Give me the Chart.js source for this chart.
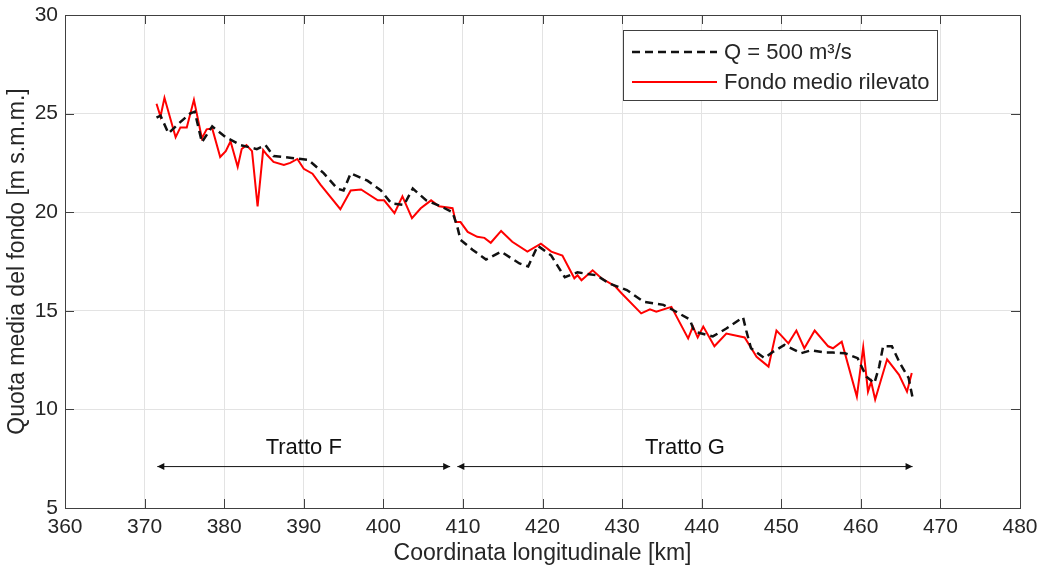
<!DOCTYPE html>
<html>
<head>
<meta charset="utf-8">
<script src="https://cdn.jsdelivr.net/npm/chart.js@4.4.1/dist/chart.umd.min.js"></script>
<style>
  html, body { margin: 0; padding: 0; background: #fff; }
  #wrap { width: 1037px; height: 571px; }
</style>
</head>
<body>
<div id="wrap"><canvas id="profileChart" width="1037" height="571"></canvas></div>
<script>
// km along the river and bed elevation [m s.m.m.]
const kmQ500 = [371.5, 372.0, 373.0, 374.3, 375.7, 376.3, 377.2, 378.5, 380.2, 382.1, 384.1, 385.2, 386.2, 388.5, 390.6, 392.5, 394.2, 395.0, 395.9, 398.0, 399.7, 401.0, 402.6, 403.7, 405.4, 407.2, 408.7, 409.3, 409.7, 411.2, 412.9, 414.8, 417.1, 418.2, 419.4, 421.1, 422.4, 422.8, 424.4, 426.8, 428.3, 430.6, 432.7, 435.2, 436.4, 438.5, 439.1, 441.4, 443.1, 445.2, 445.6, 446.2, 447.9, 449.0, 450.4, 452.5, 453.8, 455.5, 456.5, 458.0, 459.6, 460.3, 460.7, 461.7, 462.3, 462.8, 463.9, 464.9, 466.0, 466.5];
const zQ500 = [24.8, 24.9, 24.0, 24.5, 25.0, 25.1, 23.55, 24.35, 23.8, 23.4, 23.2, 23.4, 22.85, 22.75, 22.65, 21.98, 21.2, 21.1, 21.97, 21.6, 21.1, 20.45, 20.37, 21.2, 20.6, 20.3, 20.0, 19.25, 18.6, 18.1, 17.6, 18.0, 17.4, 17.25, 18.3, 17.8, 16.95, 16.7, 16.95, 16.8, 16.4, 16.05, 15.46, 15.3, 15.04, 14.56, 13.94, 13.7, 14.1, 14.67, 14.0, 13.1, 12.6, 12.93, 13.27, 12.85, 13.0, 12.88, 12.88, 12.85, 12.6, 12.0, 11.66, 11.33, 12.16, 13.2, 13.2, 12.35, 11.6, 10.6];

const kmRilievo = [371.5, 372.0, 372.5, 373.9, 374.5, 375.3, 376.2, 377.2, 377.8, 378.5, 379.5, 380.2, 380.8, 381.7, 382.2, 382.8, 383.5, 384.2, 384.9, 385.4, 386.2, 387.5, 388.3, 389.2, 390.0, 391.1, 392.1, 394.6, 395.9, 397.2, 399.3, 400.1, 401.4, 402.4, 403.6, 404.7, 406.0, 407.0, 408.7, 409.1, 409.7, 410.6, 411.8, 412.7, 413.5, 414.8, 416.2, 418.1, 419.8, 421.1, 422.5, 424.0, 424.4, 424.9, 426.3, 427.4, 429.1, 429.9, 432.4, 433.5, 434.3, 436.2, 438.3, 438.9, 439.5, 440.2, 441.6, 443.1, 445.4, 446.9, 448.4, 449.4, 450.1, 450.9, 451.9, 452.9, 454.2, 455.9, 456.5, 457.6, 459.5, 460.3, 460.9, 461.3, 461.8, 463.3, 464.8, 465.8, 466.4];
const zRilievo = [25.5, 24.85, 25.8, 23.8, 24.3, 24.3, 25.7, 23.75, 24.2, 24.25, 22.8, 23.1, 23.6, 22.3, 23.2, 23.4, 23.1, 20.3, 23.15, 22.9, 22.55, 22.4, 22.5, 22.7, 22.2, 21.95, 21.4, 20.15, 21.1, 21.15, 20.6, 20.6, 19.95, 20.8, 19.7, 20.2, 20.6, 20.3, 20.2, 19.5, 19.5, 19.0, 18.75, 18.7, 18.45, 19.05, 18.5, 18.0, 18.4, 18.0, 17.8, 16.65, 16.8, 16.55, 17.05, 16.65, 16.25, 15.9, 14.87, 15.07, 14.95, 15.2, 13.6, 14.2, 13.65, 14.2, 13.2, 13.85, 13.65, 12.67, 12.17, 14.0, 13.7, 13.35, 14.0, 13.1, 14.0, 13.2, 13.1, 13.43, 10.65, 13.15, 10.9, 11.4, 10.5, 12.54, 11.75, 10.9, 11.85];

// reach annotations: [label, start km, end km]
const tratti = [['Tratto F', 371.6, 408.4], ['Tratto G', 409.3, 466.5]];
const trattoArrowZ = 7.1;
const trattoLabelZ = 8.05;

const FONT = '"Liberation Sans", Arial, sans-serif';
const TEXT = '#262626';

function toPoints(xs, ys) {
    return xs.map((x, i) => ({ x: x, y: ys[i] }));
}

// MATLAB-like box with inward ticks
const boxPlugin = {
    id: 'boxPlugin',
    afterDatasetsDraw(chart) {
        const { ctx, chartArea: a, scales } = chart;
        ctx.save();
        ctx.strokeStyle = '#404040';
        ctx.lineWidth = 1;
        ctx.beginPath();
        scales.x.ticks.forEach(t => {
            const px = Math.round(scales.x.getPixelForValue(t.value)) + 0.5;
            ctx.moveTo(px, a.bottom); ctx.lineTo(px, a.bottom - 9);
            ctx.moveTo(px, a.top); ctx.lineTo(px, a.top + 9);
        });
        scales.y.ticks.forEach(t => {
            const py = Math.round(scales.y.getPixelForValue(t.value)) + 0.5;
            ctx.moveTo(a.left, py); ctx.lineTo(a.left + 9, py);
            ctx.moveTo(a.right, py); ctx.lineTo(a.right - 9, py);
        });
        ctx.stroke();
        ctx.strokeRect(Math.round(a.left) + 0.5, Math.round(a.top) + 0.5,
            Math.round(a.right - a.left), Math.round(a.bottom - a.top));
        ctx.restore();
    }
};

const trattiPlugin = {
    id: 'trattiPlugin',
    afterDatasetsDraw(chart) {
        const { ctx, scales } = chart;
        const yA = scales.y.getPixelForValue(trattoArrowZ);
        const yT = scales.y.getPixelForValue(trattoLabelZ);
        ctx.save();
        ctx.fillStyle = '#111';
        ctx.strokeStyle = '#111';
        ctx.lineWidth = 1;
        ctx.font = '22px ' + FONT;
        ctx.textAlign = 'center';
        ctx.textBaseline = 'middle';
        tratti.forEach(([label, k0, k1]) => {
            const x0 = scales.x.getPixelForValue(k0);
            const x1 = scales.x.getPixelForValue(k1);
            ctx.beginPath();
            ctx.moveTo(x0, yA); ctx.lineTo(x1, yA);
            ctx.stroke();
            ctx.beginPath();
            ctx.moveTo(x0, yA); ctx.lineTo(x0 + 7, yA - 3.5); ctx.lineTo(x0 + 7, yA + 3.5); ctx.closePath();
            ctx.moveTo(x1, yA); ctx.lineTo(x1 - 7, yA - 3.5); ctx.lineTo(x1 - 7, yA + 3.5); ctx.closePath();
            ctx.fill();
            ctx.fillText(label, (x0 + x1) / 2, yT);
        });
        ctx.restore();
    }
};

const legendPlugin = {
    id: 'boxLegend',
    afterDraw(chart) {
        const { ctx, chartArea: a } = chart;
        const bx = a.right - 397, by = a.top + 15, bw = 314, bh = 70;
        ctx.save();
        ctx.fillStyle = '#fff';
        ctx.fillRect(bx, by, bw, bh);
        ctx.strokeStyle = '#404040';
        ctx.lineWidth = 1;
        ctx.strokeRect(Math.round(bx) + 0.5, Math.round(by) + 0.5, bw, bh);
        ctx.font = '22px ' + FONT;
        ctx.textBaseline = 'middle';
        ctx.fillStyle = TEXT;
        chart.data.datasets.forEach((ds, i) => {
            const y = by + 22 + i * 30;
            ctx.beginPath();
            ctx.strokeStyle = ds.borderColor;
            ctx.lineWidth = ds.borderWidth;
            ctx.setLineDash(ds.borderDash || []);
            ctx.moveTo(bx + 9, y); ctx.lineTo(bx + 94, y);
            ctx.stroke();
            ctx.setLineDash([]);
            ctx.fillText(ds.label, bx + 101, y + 1);
        });
        ctx.restore();
    }
};

const ctx = document.getElementById('profileChart').getContext('2d');
new Chart(ctx, {
    type: 'line',
    data: {
        datasets: [{
            label: 'Q = 500 m³/s',
            data: toPoints(kmQ500, zQ500),
            borderColor: '#111111',
            borderWidth: 2.5,
            borderDash: [8, 5],
            pointRadius: 0,
            tension: 0,
            fill: false,
        }, {
            label: 'Fondo medio rilevato',
            data: toPoints(kmRilievo, zRilievo),
            borderColor: '#ff0000',
            borderWidth: 2,
            pointRadius: 0,
            tension: 0,
            fill: false,
        }]
    },
    options: {
        responsive: false,
        animation: false,
        layout: { padding: { top: 15, right: 17, left: 0, bottom: 0 } },
        plugins: {
            legend: { display: false },
            tooltip: { enabled: false }
        },
        scales: {
            x: {
                type: 'linear',
                min: 360, max: 480,
                afterFit(scale) { scale.height = 63; scale.paddingLeft = 0; scale.paddingRight = 0; },
                grid: { color: '#e3e3e3', drawTicks: false, lineWidth: 1 },
                border: { display: false },
                ticks: { stepSize: 10, color: TEXT, font: { family: FONT, size: 21 }, padding: 7, maxRotation: 0 },
                title: { display: true, text: 'Coordinata longitudinale [km]', color: TEXT, font: { family: FONT, size: 23 }, padding: { top: 0, bottom: 4 } }
            },
            y: {
                min: 5, max: 30,
                afterFit(scale) { scale.width = 65; scale.paddingTop = 0; scale.paddingBottom = 0; },
                grid: { color: '#e3e3e3', drawTicks: false, lineWidth: 1 },
                border: { display: false },
                ticks: { stepSize: 5, color: TEXT, font: { family: FONT, size: 21 }, padding: 7 },
                title: { display: true, text: 'Quota media del fondo [m s.m.m.]', color: TEXT, font: { family: FONT, size: 23 }, padding: { top: 4, bottom: 0 } }
            }
        }
    },
    plugins: [boxPlugin, trattiPlugin, legendPlugin]
});
</script>
</body>
</html>
